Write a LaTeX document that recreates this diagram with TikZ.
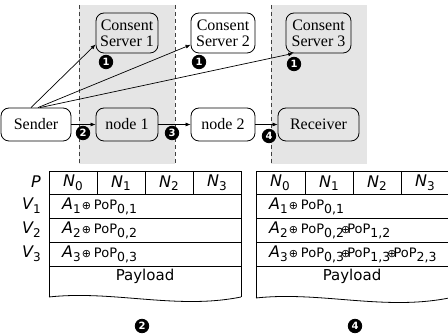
\documentclass[tikz,border=0pt]{standalone}
\usepackage{fontspec}
\setmainfont{Liberation Serif}
\newfontfamily\dvs{DejaVu Sans}
\usetikzlibrary{arrows.meta}
\definecolor{bggrey}{HTML}{E5E5E5}
\newcommand\mvar[2]{{\fontsize{16}{16}\selectfont\itshape #1}\raisebox{-3.5pt}{\fontsize{12}{12}\selectfont #2}}
\newcommand\popx[1]{{\fontsize{13}{13}\selectfont PoP}\raisebox{-3.5pt}{\fontsize{12.5}{12}\selectfont #1}}
\newcommand\oplusx{\raisebox{0.5pt}{\fontsize{11}{11}\selectfont ⊕}}
\tikzset{
  box/.style={draw, rounded corners=8pt, line width=0.8pt, inner sep=0pt,
    font=\fontsize{16}{16}\selectfont, align=center},
  num/.style={circle, fill=black, draw=black, line width=0.8pt, text=white, inner sep=0pt, minimum size=13.5pt,
    font=\dvs\bfseries\fontsize{10}{10}\selectfont},
  arr/.style={line width=0.7pt, -{Latex[length=5pt,width=4pt]}},
  sep/.style={dash pattern=on 4pt off 3pt, line width=0.7pt, draw=black!75},
  tab/.style={line width=0.8pt},
  cell/.style={inner sep=0pt, font=\dvs},
  lab/.style={inner sep=0pt, font=\dvs, anchor=base east},
  row/.style={inner sep=0pt, font=\dvs, anchor=base west},
}
\begin{document}
\begin{tikzpicture}[x=1pt,y=-1pt]
\useasboundingbox (0,0) rectangle (448,336);
\clip (0,0) rectangle (448,336);
% shaded regions
\fill[bggrey] (79,5) rectangle (175,164);
\fill[bggrey] (271,5) rectangle (367,164);
\draw[sep] (79,5) -- (79,164);
\draw[sep] (175,5) -- (175,164);
\draw[sep] (271,5) -- (271,164);
% nodes
\node[box, minimum width=62pt, minimum height=40pt] (cs1) at (127,33) {Consent\\Server 1};
\node[box, minimum width=64pt, minimum height=40pt] (cs2) at (223,33) {Consent\\Server 2};
\node[box, minimum width=65pt, minimum height=40pt] (cs3) at (318.5,33) {Consent\\Server 3};
\node[box, minimum width=70pt, minimum height=33pt] (sender) at (36,124.5) {Sender};
\node[box, minimum width=62pt, minimum height=33pt] (n1) at (127,124.5) {node 1};
\node[box, minimum width=64pt, minimum height=33pt] (n2) at (223,124.5) {node 2};
\node[box, minimum width=81pt, minimum height=33pt] (rcv) at (318.5,124.5) {Receiver};
% arrows
\coordinate (s1) at ([xshift=-5pt]sender.north);
\coordinate (s2) at ([xshift=2pt]sender.north);
\coordinate (s3) at ([xshift=4pt]sender.north);
\draw[arr] (s1) -- (cs1.200);
\draw[arr] (s2) -- (cs2.200);
\draw[arr] (s3) -- (cs3.219);
\draw[arr] (sender.east) -- (n1.west);
\draw[arr] (n1.east) -- (n2.west);
\draw[arr] (n2.east) -- (rcv.west);
% step numbers
\node[num] (c1a) at (106,62) {1};
\node[num] (c1b) at (199,62) {1};
\node[num] (c1c) at (294,64) {1};
\node[num] (c2) at (83,133) {2};
\node[num] (c3) at (172,133) {3};
\node[num] (c4) at (269,136) {4};
\node[num] (c2b) at (142,326) {2};
\node[num] (c4b) at (355,326) {4};
% left table
\draw[tab] (49,297) -- (49,171) -- (241,171) -- (241,297);
\draw[tab] (49,297) .. controls (113,290) and (177,310) .. (241,297);
\draw[tab] (97,171) -- (97,194);
\draw[tab] (145,171) -- (145,194);
\draw[tab] (193,171) -- (193,194);
\foreach \yy in {194,218,242,266} \draw[tab] (49,\yy) -- (241,\yy);
\node[cell] (l0) at (73,183) {\mvar{N}{0}};
\node[cell] (l1) at (121,183) {\mvar{N}{1}};
\node[cell] (l2) at (169,183) {\mvar{N}{2}};
\node[cell] (l3) at (217,183) {\mvar{N}{3}};
\node[row] (lr1) at (62,210) {\mvar{A}{1}\hspace{1pt}\oplusx\hspace{3pt}\popx{0,1}};
\node[row] (lr2) at (62,234) {\mvar{A}{2}\hspace{1pt}\oplusx\hspace{3pt}\popx{0,2}};
\node[row] (lr3) at (62,258) {\mvar{A}{3}\hspace{1pt}\oplusx\hspace{3pt}\popx{0,3}};
\node[cell, anchor=base, font=\dvs\fontsize{15}{15}\selectfont] (lpay) at (145,281) {Payload};
% labels
\node[lab] (lp) at (41,188) {{\fontsize{16}{16}\selectfont\itshape P}};
\node[lab] (lv1) at (41,210) {\mvar{V}{1}};
\node[lab] (lv2) at (41,234) {\mvar{V}{2}};
\node[lab] (lv3) at (41,258) {\mvar{V}{3}};
% right table
\draw[tab] (256,298) -- (256,171) -- (449,171) -- (449,298);
\draw[tab] (256,298) .. controls (320,291) and (384,311) .. (449,298);
\draw[tab] (305,171) -- (305,194);
\draw[tab] (353,171) -- (353,194);
\draw[tab] (401,171) -- (401,194);
\foreach \yy in {194,218,242,266} \draw[tab] (256,\yy) -- (449,\yy);
\node[cell] (r0) at (280,183) {\mvar{N}{0}};
\node[cell] (r1) at (329,183) {\mvar{N}{1}};
\node[cell] (r2) at (377,183) {\mvar{N}{2}};
\node[cell] (r3) at (425,183) {\mvar{N}{3}};
\node[row] (rr1) at (269,210) {\mvar{A}{1}\hspace{1pt}\oplusx\hspace{3pt}\popx{0,1}};
\node[row] (rr2) at (269,234) {\mvar{A}{2}\hspace{1pt}\oplusx\hspace{3pt}\popx{0,2}\hspace{-3pt}\oplusx\hspace{-3pt}\popx{1,2}};
\node[row] (rr3) at (269,258) {\mvar{A}{3}\hspace{1pt}\oplusx\hspace{3pt}\popx{0,3}\hspace{-3pt}\oplusx\hspace{-3pt}\popx{1,3}\hspace{-3pt}\oplusx\hspace{-3pt}\popx{2,3}};
\node[cell, anchor=base, font=\dvs\fontsize{15}{15}\selectfont] (rpay) at (352,281) {Payload};
\end{tikzpicture}
\end{document}
